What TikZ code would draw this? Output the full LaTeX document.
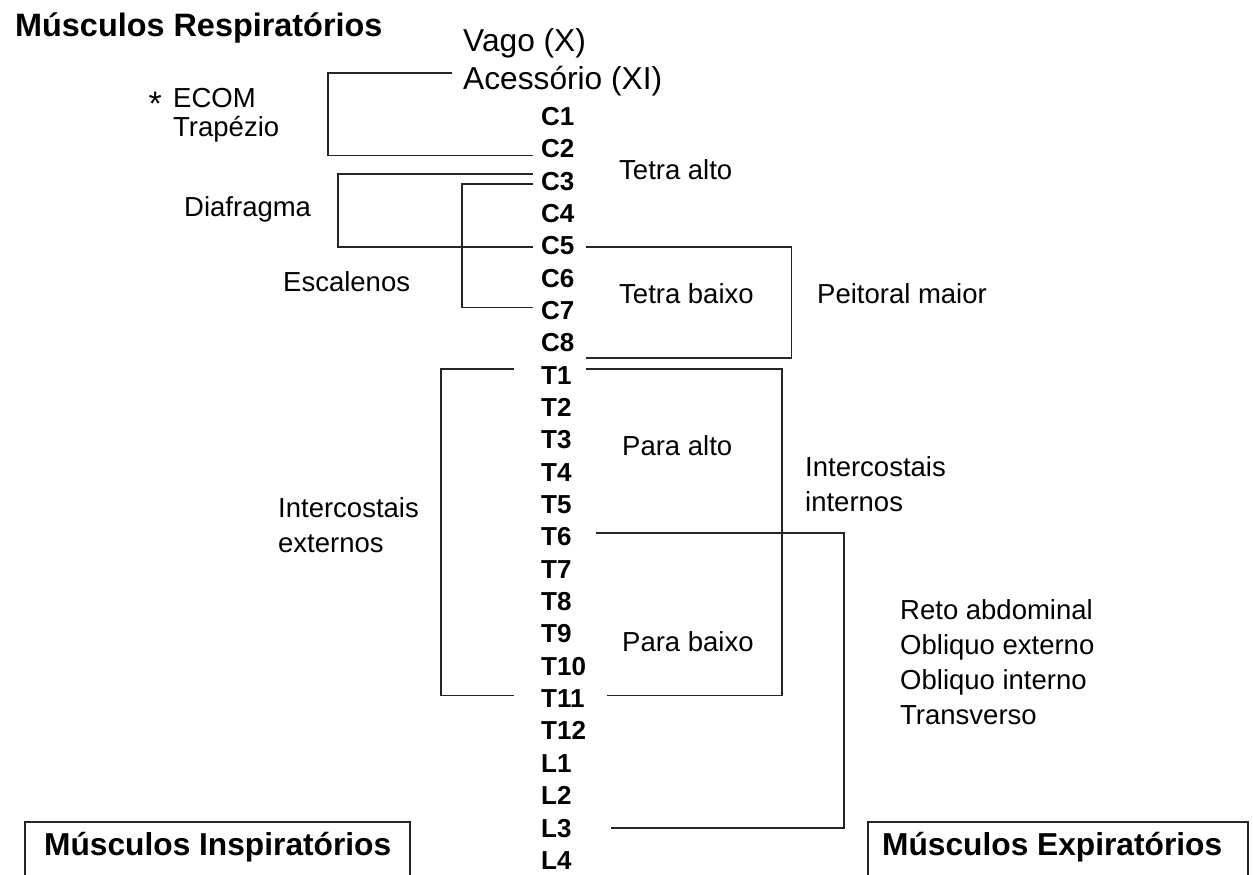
\documentclass[tikz,border=0pt]{standalone}
\usepackage{fontspec}
\setmainfont{Liberation Sans}
\tikzset{
  ln/.style={line width=1.5pt, draw=black!85},
  lab/.style={inner sep=0pt, anchor=base west, font={\fontsize{26}{30}\selectfont\bfseries}},
  txt/.style={inner sep=0pt, anchor=base west, font={\fontsize{27.5}{35}\selectfont}},
  txtblock/.style={inner sep=0pt, anchor=west, align=left, font={\fontsize{27.5}{35}\selectfont}},
  big/.style={inner sep=0pt, anchor=base west, font={\fontsize{31.7}{36}\selectfont}},
  head/.style={inner sep=0pt, anchor=base west, font={\fontsize{32.4}{38}\selectfont\bfseries}},
  boxhead/.style={inner sep=0pt, anchor=base west, font={\fontsize{31.7}{38}\selectfont\bfseries}},
}
\begin{document}
\begin{tikzpicture}[x=1pt,y=-1pt]
\useasboundingbox (0,0) rectangle (1253,875);
\fill[white] (0,0) rectangle (1253,875);

% vertebral levels
\foreach \n [count=\i from 0] in {C1,C2,C3,C4,C5,C6,C7,C8,T1,T2,T3,T4,T5,T6,T7,T8,T9,T10,T11,T12,L1,L2,L3,L4}
  \node[lab] (\n) at (541,{125.3+32.35*\i}) {\n};

% texts
\node[head] (title) at (15,37) {Músculos Respiratórios};
\node[big] (vago) at (463,51.3) {Vago (X)};
\node[big] (acc) at (463,89.5) {Acessório (XI)};
\node[txt] (ecom) at (173,107.8) {ECOM};
\node[txt, anchor=base east, font={\fontsize{34}{36}\selectfont}] (ast) at ([xshift=-11pt]ecom.base west) {\raisebox{-8pt}{*}};
\node[txt] (trap) at (173,136.8) {Trapézio};
\node[txt] (ta) at (619,179.8) {Tetra alto};
\node[txt] (dia) at (184,216.8) {Diafragma};
\node[txt] (esc) at (283,291.8) {Escalenos};
\node[txt] (tb) at (619,303.8) {Tetra baixo};
\node[txt] (pm) at (817,303.8) {Peitoral maior};
\node[txt] (pa) at (622,455.8) {Para alto};
\node[txtblock] (ii) at (805,484.3) {Intercostais\\internos};
\node[txtblock] (ie) at (278,525.3) {Intercostais\\externos};
\node[txt] (pb) at (622,651.8) {Para baixo};
\node[txtblock] (abd) at (900,662.3) {Reto abdominal\\Obliquo externo\\Obliquo interno\\Transverso};

% bottom boxes
\node[boxhead] (insp) at (44,855) {Músculos Inspiratórios};
\node[boxhead] (exp) at (882,855) {Músculos Expiratórios};
\draw[ln] (25,877) |- (410,822) -- (410,877);
\draw[ln] (868,877) |- (1248,822) -- (1248,877);

% connectors
\draw[ln] ([shift={(-11,-8)}]acc.west) -| ([shift={(-213,7)}]C2.west) -- ([shift={(-8,7)}]C2.west);
\draw[ln] ([shift={(-8,-7)}]C3.west) -| ([shift={(-203,1)}]C5.west) -- ([shift={(-8,1)}]C5.west);
\draw[ln] ([shift={(-8,3)}]C3.west) -| ([shift={(-79,-3)}]C7.west) -- ([shift={(-8,-3)}]C7.west);
\draw[ln] ([shift={(11,1)}]C5.east) -| ([shift={(217,15)}]C8.east) -- ([shift={(11,15)}]C8.east);
\draw[ln] ([shift={(-27,-6)}]T1.west) -| ([shift={(-100,-3)}]T11.west) -- ([shift={(-27,-3)}]T11.west);
\draw[ln] ([shift={(14,-6)}]T1.east) -| ([shift={(197,-3)}]T11.east) -- ([shift={(22,-3)}]T11.east);
\draw[ln] ([shift={(24,-4)}]T6.east) -| ([shift={(272,0)}]L3.east) -- ([shift={(39,0)}]L3.east);
\end{tikzpicture}
\end{document}
